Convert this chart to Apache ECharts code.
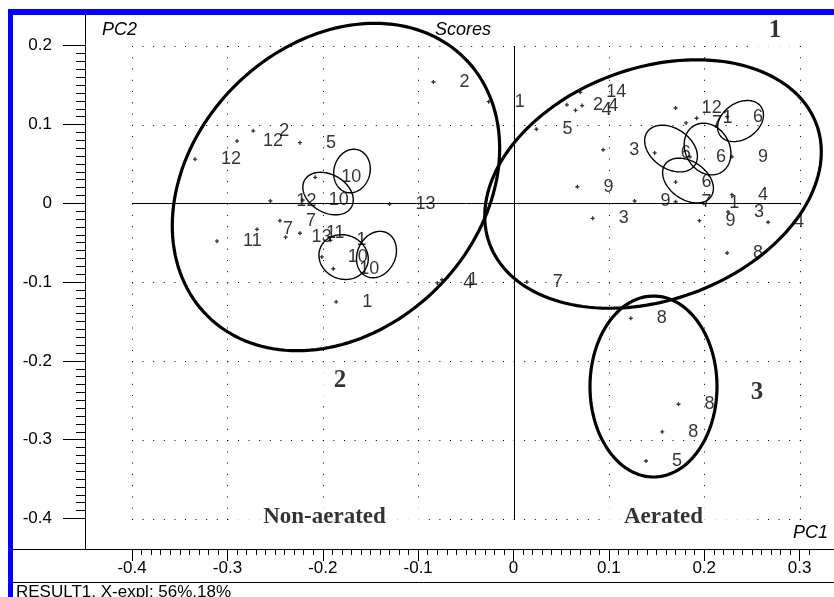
<!DOCTYPE html>
<html>
<head>
<meta charset="utf-8">
<script src="https://cdn.jsdelivr.net/npm/echarts@6/dist/echarts.min.js"></script>
<style>
html, body { margin: 0; padding: 0; background: #fff; }
#chart { width: 834px; height: 597px; }
</style>
</head>
<body>
<div id="chart"></div>
<script>
// ---- Scores: PC1 / PC2 per sample, with sample number ----
const pc1 = [-0.334, -0.290, -0.273, -0.224, -0.208, -0.255, -0.221, -0.245, -0.269, -0.311,
             -0.239, -0.224, -0.192, -0.201, -0.189, -0.186, -0.130, -0.080, -0.075, -0.084,
             -0.026, 0.024, 0.014, 0.070, 0.056, 0.065, 0.072, 0.170, 0.181, 0.192,
             0.224, 0.094, 0.148, 0.185, 0.229, 0.067, 0.170, 0.127, 0.170, 0.199,
             0.229, 0.083, 0.195, 0.225, 0.267, 0.224, 0.123, 0.173, 0.156, 0.139];
const pc2 = [0.056, 0.079, 0.092, 0.077, 0.033, 0.003, 0.004, -0.022, -0.033, -0.048,
             -0.043, -0.038, -0.047, -0.068, -0.083, -0.125, -0.001, -0.101, -0.097, 0.154,
             0.129, 0.094, -0.100, 0.141, 0.125, 0.118, 0.124, 0.121, 0.102, 0.108,
             0.110, 0.068, 0.064, 0.059, 0.059, 0.021, 0.027, 0.003, 0.002, 0.000,
             0.011, -0.019, -0.022, -0.011, -0.024, -0.063, -0.146, -0.255, -0.290, -0.327];
const sampleIds = ['12', '12', '2', '5', '10', '12', '10', '7', '7', '11',
                   '13', '11', '1', '10', '10', '1', '13', '4', '1', '2',
                   '1', '5', '7', '14', '2', '4', '4', '12', '7', '1',
                   '6', '3', '6', '6', '9', '9', '6', '9', '7', '1',
                   '4', '3', '9', '3', '4', '8', '8', '8', '8', '5'];

// ---- Group ellipses: centre (PC1, PC2), semi-axes in PC1 units, tilt in degrees ----
const groupCx = [0.1463, -0.1862, 0.1468];
const groupCy = [0.0245, 0.0207, -0.2325];
const groupA = [0.1825, 0.1909, 0.0666];
const groupB = [0.1217, 0.1500, 0.0949];
const groupTilt = [20, 45, 0];

// ---- Replicate ellipses ----
const repCx = [-0.1694, -0.1945, -0.1782, -0.1437, 0.1652, 0.2035, 0.1830, 0.2381];
const repCy = [0.0410, 0.0124, -0.0682, -0.0650, 0.0695, 0.0689, 0.0289, 0.1044];
const repA = [0.0231, 0.0283, 0.0262, 0.0252, 0.0304, 0.0283, 0.0294, 0.0262];
const repB = [0.0189, 0.0199, 0.0231, 0.0199, 0.0210, 0.0231, 0.0199, 0.0189];
const repTilt = [75, -30, -20, 65, -35, -60, -35, 35];

// ---- Group numbers and treatment names ----
const groupNumText = ['1', '2', '3'];
const groupNumX = [0.2742, -0.1820, 0.2554];
const groupNumY = [0.2199, -0.2243, -0.2407];
const treatmentText = ['Non-aerated', 'Aerated'];
const treatmentX = [-0.1982, 0.1573];
const treatmentY = [-0.398, -0.398];

// ---- Axes ----
const xTicks = [-0.4, -0.3, -0.2, -0.1, 0, 0.1, 0.2, 0.3];
const yTicks = [0.2, 0.1, 0, -0.1, -0.2, -0.3, -0.4];
const xTickLabels = ['-0.4', '-0.3', '-0.2', '-0.1', '0', '0.1', '0.2', '0.3'];
const yTickLabels = ['0.2', '0.1', '0', '-0.1', '-0.2', '-0.3', '-0.4'];
const X_MIN = -0.4494, X_MAX = 0.3361;
const Y_MIN = -0.4387, Y_MAX = 0.2390;

const xMinor = [];
for (let i = -40; i <= 31; i++) xMinor.push(i / 100);
const yMinor = [];
for (let i = -40; i <= 20; i++) yMinor.push(i / 100);

const SANS = "'Liberation Sans', Arial, sans-serif";
const SERIF = "'Liberation Serif', 'Times New Roman', serif";

const chart = echarts.init(document.getElementById('chart'), null, { renderer: 'canvas' });

// grid lines across the tick box; the zero lines are solid
const gridData = [];
xTicks.forEach(v => gridData.push([0, v]));
yTicks.forEach(v => gridData.push([1, v]));
const gxLo = xTicks[0], gxHi = xTicks[xTicks.length - 1];
const gyLo = yTicks[yTicks.length - 1], gyHi = yTicks[0];

function renderGridLine(params, api) {
  const dir = api.value(0), v = api.value(1);
  let p1, p2;
  if (dir === 0) { p1 = api.coord([v, gyHi]); p2 = api.coord([v, gyLo]); }
  else { p1 = api.coord([gxLo, v]); p2 = api.coord([gxHi, v]); }
  const snap = c => Math.round(c) + 0.5;
  const zero = Math.abs(v) < 1e-9;
  const shape = dir === 0
    ? { x1: snap(p1[0]), y1: Math.round(p1[1]), x2: snap(p2[0]), y2: Math.round(p2[1]) + 1 }
    : { x1: Math.round(p1[0]), y1: snap(p1[1]), x2: Math.round(p2[0]) + 1, y2: snap(p2[1]) };
  return {
    type: 'line',
    shape: shape,
    style: {
      stroke: '#000',
      lineWidth: 1,
      lineDash: zero ? null : (dir === 0 ? [1, 10.26] : [1, 9.6])
    },
    silent: true
  };
}

function makeEllipseRenderer(cx, cy, ra, rb, tilt, width) {
  return function (params, api) {
    const i = params.dataIndex;
    const c = api.coord([cx[i], cy[i]]);
    const a = api.size([ra[i], 0])[0];
    const b = api.size([rb[i], 0])[0];
    const th = tilt[i] * Math.PI / 180;
    const pts = [];
    const n = 160;
    for (let k = 0; k < n; k++) {
      const t = 2 * Math.PI * k / n;
      const u = a * Math.cos(t), w = b * Math.sin(t);
      pts.push([c[0] + u * Math.cos(th) - w * Math.sin(th),
                c[1] - (u * Math.sin(th) + w * Math.cos(th))]);
    }
    return {
      type: 'polygon',
      shape: { points: pts },
      style: { fill: 'none', stroke: '#000', lineWidth: width },
      silent: true
    };
  };
}

const plusPath = 'path://M1,0H2V1H3V2H2V3H1V2H0V1H1Z';

const points = pc1.map((x, i) => [x, pc2[i], sampleIds[i]]);
const groupNums = groupNumText.map((t, i) => [groupNumX[i], groupNumY[i], t]);
const treatments = treatmentText.map((t, i) => [treatmentX[i], treatmentY[i], t]);

// white boxes behind the treatment names: [top, right, bottom, left]
const boxPad = [[3, 37, 3, 27], [3, 50, 3, 21]];

const option = {
  animation: false,
  backgroundColor: '#fff',
  grid: { left: 85, top: 15, width: 749, height: 534, containLabel: false },
  xAxis: [
    {
      type: 'value', min: X_MIN, max: X_MAX, position: 'bottom', offset: 0,
      axisLine: { show: true, onZero: false, lineStyle: { color: '#000', width: 1 } },
      axisTick: { show: true, inside: false, length: 12, customValues: xTicks, lineStyle: { color: '#000' } },
      axisLabel: {
        show: true, customValues: xTicks, margin: 11,
        formatter: v => xTickLabels[xTicks.findIndex(t => Math.abs(t - v) < 1e-9)] ?? '',
        color: '#000', fontFamily: SANS, fontSize: 17
      },
      splitLine: { show: false }
    },
    {
      type: 'value', min: X_MIN, max: X_MAX, position: 'bottom', offset: 0,
      axisLine: { show: false, onZero: false },
      axisTick: { show: true, inside: false, length: 6, customValues: xMinor, lineStyle: { color: '#000' } },
      axisLabel: { show: false },
      splitLine: { show: false }
    }
  ],
  yAxis: [
    {
      type: 'value', min: Y_MIN, max: Y_MAX, position: 'left', offset: 0,
      axisLine: { show: true, onZero: false, lineStyle: { color: '#000', width: 1 } },
      axisTick: { show: true, inside: false, length: 22, customValues: yTicks, lineStyle: { color: '#000' } },
      axisLabel: {
        show: true, customValues: yTicks, margin: 33,
        formatter: v => yTickLabels[yTicks.findIndex(t => Math.abs(t - v) < 1e-9)] ?? '',
        color: '#000', fontFamily: SANS, fontSize: 17
      },
      splitLine: { show: false }
    },
    {
      type: 'value', min: Y_MIN, max: Y_MAX, position: 'left', offset: 0,
      axisLine: { show: false, onZero: false },
      axisTick: { show: true, inside: false, length: 9, customValues: yMinor, lineStyle: { color: '#000' } },
      axisLabel: { show: false },
      splitLine: { show: false }
    }
  ],
  series: [
    {
      name: 'grid lines', type: 'custom', xAxisIndex: 0, yAxisIndex: 0,
      renderItem: renderGridLine, data: gridData, z: 1, clip: false, silent: true
    },
    {
      name: 'group ellipses', type: 'custom', xAxisIndex: 0, yAxisIndex: 0,
      renderItem: makeEllipseRenderer(groupCx, groupCy, groupA, groupB, groupTilt, 3.2),
      data: groupCx.map((x, i) => [x, groupCy[i]]), z: 5, clip: true, silent: true
    },
    {
      name: 'replicate ellipses', type: 'custom', xAxisIndex: 0, yAxisIndex: 0,
      renderItem: makeEllipseRenderer(repCx, repCy, repA, repB, repTilt, 1.4),
      data: repCx.map((x, i) => [x, repCy[i]]), z: 5, clip: true, silent: true
    },
    {
      name: 'scores', type: 'scatter', xAxisIndex: 0, yAxisIndex: 0,
      data: points, symbol: plusPath, symbolSize: 4,
      itemStyle: { color: '#000' },
      label: {
        show: true, position: 'right', distance: 24,
        formatter: p => p.data[2],
        color: '#000', fontFamily: SANS, fontSize: 18
      },
      z: 6, silent: true
    },
    {
      name: 'group numbers', type: 'scatter', xAxisIndex: 0, yAxisIndex: 0,
      data: groupNums, symbolSize: 0,
      label: {
        show: true, position: 'inside',
        formatter: p => p.data[2],
        color: '#000', fontFamily: SERIF, fontWeight: 'bold', fontSize: 25,
        backgroundColor: '#fff', padding: [2, 16, 8, 16]
      },
      z: 7, silent: true
    },
    {
      name: 'treatments', type: 'scatter', xAxisIndex: 0, yAxisIndex: 0,
      data: treatments.map((d, i) => ({
        value: d,
        label: {
          padding: boxPad[i],
          offset: [(boxPad[i][1] - boxPad[i][3]) / 2, 0]
        }
      })),
      symbolSize: 0,
      label: {
        show: true, position: 'inside',
        formatter: p => p.data.value[2],
        color: '#000', fontFamily: SERIF, fontWeight: 'bold', fontSize: 23,
        backgroundColor: '#fff'
      },
      z: 7, silent: true
    }
  ],
  graphic: [
    { type: 'line', shape: { x1: 13, y1: 549.5, x2: 834, y2: 549.5 }, style: { stroke: '#000', lineWidth: 1 }, z: 10, silent: true },
    { type: 'line', shape: { x1: 13, y1: 582.5, x2: 834, y2: 582.5 }, style: { stroke: '#000', lineWidth: 1 }, z: 10, silent: true },
    { type: 'rect', shape: { x: 8, y: 9, width: 826, height: 6 }, style: { fill: '#0000ff' }, z: 20, silent: true },
    { type: 'rect', shape: { x: 8, y: 9, width: 5, height: 588 }, style: { fill: '#0000ff' }, z: 20, silent: true },
    { type: 'text', x: 102, y: 30, style: { text: 'PC2', fill: '#000', font: `italic 18px ${SANS}`, textVerticalAlign: 'middle' }, z: 10, silent: true },
    { type: 'text', x: 435, y: 30, style: { text: 'Scores', fill: '#000', font: `italic 18px ${SANS}`, textVerticalAlign: 'middle' }, z: 10, silent: true },
    { type: 'text', x: 793, y: 533, style: { text: 'PC1', fill: '#000', font: `italic 18px ${SANS}`, textVerticalAlign: 'middle' }, z: 10, silent: true },
    { type: 'text', x: 16, y: 584, style: { text: 'RESULT1, X-expl: 56%,18%', fill: '#000', font: `17px ${SANS}`, textVerticalAlign: 'top' }, z: 10, silent: true }
  ]
};

chart.setOption(option);
</script>
</body>
</html>
